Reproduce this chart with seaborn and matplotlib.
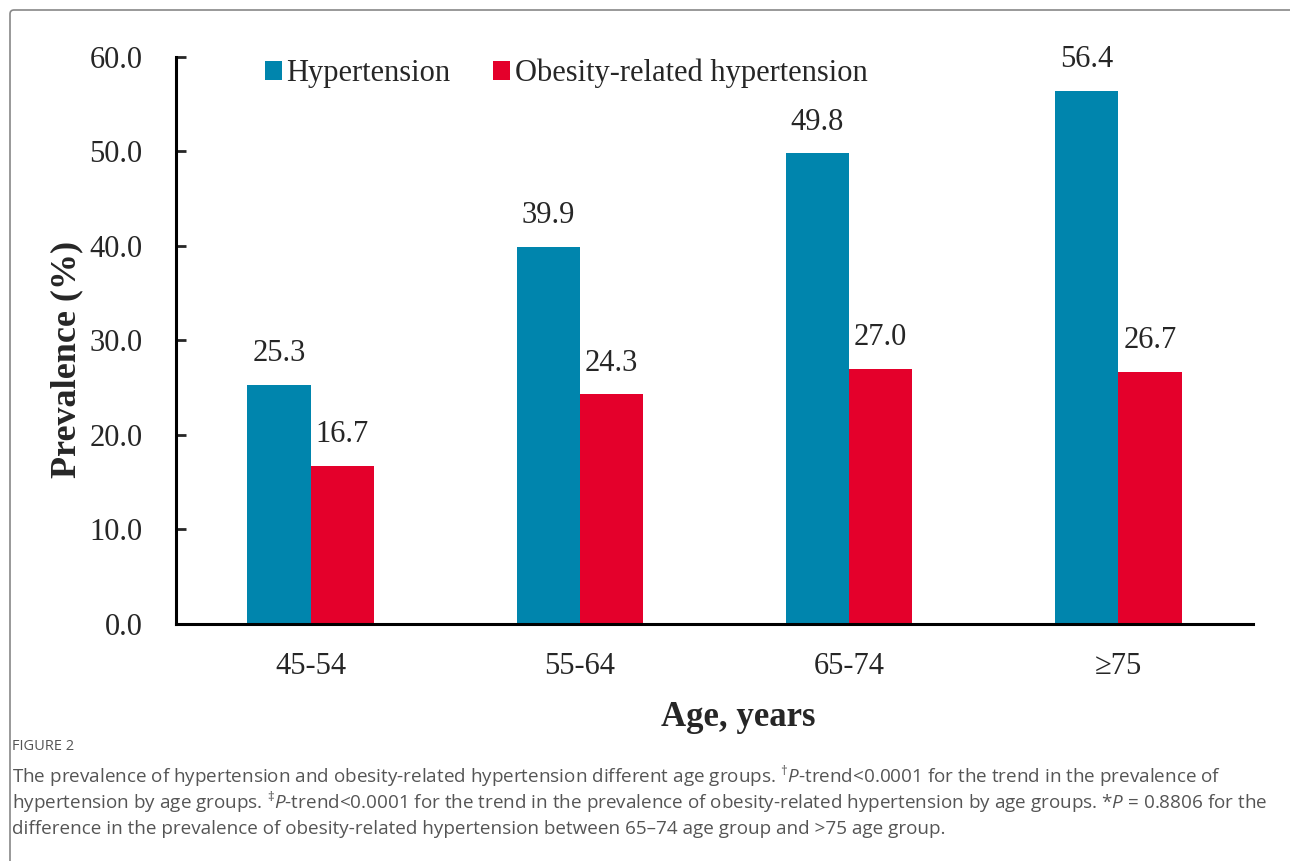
import pandas as pd
import seaborn as sns
import matplotlib.pyplot as plt
from matplotlib.patches import FancyBboxPatch

age_groups = ["45-54", "55-64", "65-74", "\u226575"]
hypertension = [25.3, 39.9, 49.8, 56.4]
obesity_related = [16.7, 24.3, 27.0, 26.7]
series_names = ["Hypertension", "Obesity-related hypertension"]
colors = ["#0085AD", "#E4002B"]
y_ticks = [0, 10, 20, 30, 40, 50, 60]

df = pd.DataFrame(
    {
        "age": age_groups * 2,
        "value": hypertension + obesity_related,
        "series": [series_names[0]] * 4 + [series_names[1]] * 4,
    }
)

sns.set_theme(style="white")
plt.rcParams["font.family"] = ["Liberation Serif", "DejaVu Serif"]
plt.rcParams["mathtext.fontset"] = "custom"
plt.rcParams["mathtext.rm"] = "Open Sans"
plt.rcParams["mathtext.it"] = "Open Sans:italic"

fig = plt.figure(figsize=(12.9, 8.61), dpi=100)
ax = fig.add_axes([0.1364, 0.2753, 0.8349, 0.6585])

sns.barplot(
    data=df,
    x="age",
    y="value",
    hue="series",
    palette=colors,
    width=0.47,
    saturation=1,
    linewidth=0,
    ax=ax,
    legend=True,
)

for cont in ax.containers:
    ax.bar_label(cont, fmt="%.1f", padding=12, fontsize=22)

ax.set_ylim(0, 60)
ax.set_yticks(y_ticks)
ax.set_yticklabels([f"{v:.1f}" for v in y_ticks], fontsize=22)
ax.tick_params(axis="y", direction="in", length=7, width=2, pad=24, left=True)
ax.tick_params(axis="x", length=0, pad=20, labelsize=22)
for s in ["top", "right"]:
    ax.spines[s].set_visible(False)
for s in ["left", "bottom"]:
    ax.spines[s].set_linewidth(2.2)
    ax.spines[s].set_color("black")

ax.set_xlabel("Age, years", fontsize=25, fontweight="bold")
ax.xaxis.set_label_coords(0.522, -0.135)
ax.set_ylabel("Prevalence (%)", fontsize=26, fontweight="bold")
ax.yaxis.set_label_coords(-0.086, 0.467)

ax.legend(
    loc="upper left",
    bbox_to_anchor=(0.057, 1.045),
    ncol=2,
    frameon=False,
    fontsize=22,
    handlelength=0.55,
    handleheight=0.55,
    handletextpad=0.15,
    columnspacing=1.4,
)

# figure frame
frame = FancyBboxPatch(
    (10, -40), 1320, 851 + 40,
    boxstyle="round,pad=0,rounding_size=4",
    transform=None, fill=False, edgecolor="#888888", linewidth=1.2,
)
fig.patches.append(frame)

cap_font = "Open Sans"
fig.text(12 / 1290, 1 - 746 / 861, "FIGURE 2", fontsize=10.5, color="#555555",
         family=cap_font, va="center")
lines = [
    r"The prevalence of hypertension and obesity-related hypertension different age groups. "
    r"$^{\dagger}\mathit{P}$-trend<0.0001 for the trend in the prevalence of",
    r"hypertension by age groups. $^{\ddagger}\mathit{P}$-trend<0.0001 for the trend in the "
    r"prevalence of obesity-related hypertension by age groups. *$\mathit{P}$ = 0.8806 for the",
    "difference in the prevalence of obesity-related hypertension between 65\u201374 age group and >75 age group.",
]
for i, line in enumerate(lines):
    fig.text(12 / 1290, 1 - (776 + i * 26.5) / 861, line, fontsize=13.6,
             color="#555555", family=cap_font, va="center")

fig.savefig("out.png", dpi=100)
